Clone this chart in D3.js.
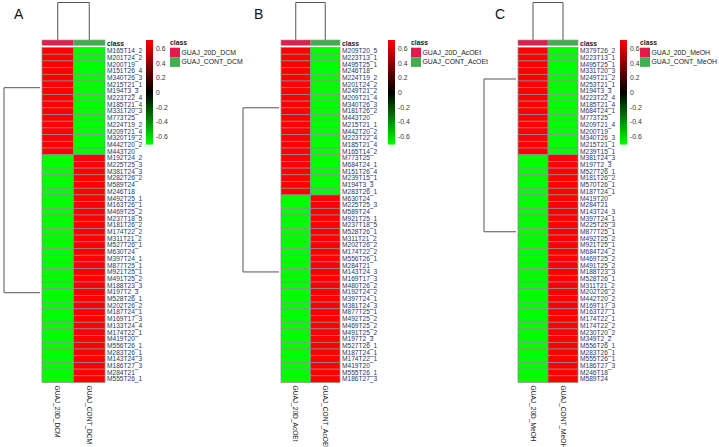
<!DOCTYPE html>
<html><head><meta charset="utf-8">
<script src="https://cdn.jsdelivr.net/npm/d3@7"></script>
<style>body{margin:0;background:#fff}svg{display:block;font-family:"Liberation Sans",Arial,sans-serif}</style>
</head><body><svg id="c" width="719" height="447"></svg>
<script>
// ---------- DATA ----------
const colsA = ["GUAJ_20D_DCM", "GUAJ_CONT_DCM"];
const colsB = ["GUAJ_20D_AcOEt", "GUAJ_CONT_AcOEt"];
const colsC = ["GUAJ_20D_MeOH", "GUAJ_CONT_MeOH"];
const colClass = ["20D", "CONT"];

const rowsA = ["M165T14_2","M201T24_2","M200T19","M151T26_4","M340T26_3","M215T21_1","M194T3_3","M223T22_4","M185T21_4","M331T20_3","M773T25","M224T19_2","M209T21_4","M320T19_2","M442T20_2","M443T20",
"M192T24_2","M225T25_3","M381T24_3","M282T26_2","M589T24","M246T18","M492T25_1","M163T26_1","M469T25_2","M237T18_5","M181T26_2","M174T22_2","M311T21_2","M527T26_1","M630T24","M397T24_1","M877T25_1","M921T25_1","M491T25_2","M188T23_3","M197T2_3","M528T26_1","M202T26_2","M187T24_1","M169T17_3","M133T24_4","M174T22_1","M419T20","M556T26_1","M283T26_1","M143T24_3","M186T27_3","M284T21","M555T26_1"];
const a20D = [0.71,0.71,0.71,0.71,0.71,0.71,0.71,0.71,0.71,0.71,0.71,0.71,0.71,0.71,0.71,0.71,
-0.71,-0.71,-0.71,-0.71,-0.71,-0.71,-0.71,-0.71,-0.71,-0.71,-0.71,-0.71,-0.71,-0.71,-0.71,-0.71,-0.71,-0.71,-0.71,-0.71,-0.71,-0.71,-0.71,-0.71,-0.71,-0.71,-0.71,-0.71,-0.71,-0.71,-0.71,-0.71,-0.71,-0.71];
const aCONT = [-0.71,-0.71,-0.71,-0.71,-0.71,-0.71,-0.71,-0.71,-0.71,-0.71,-0.71,-0.71,-0.71,-0.71,-0.71,-0.71,
0.71,0.71,0.71,0.71,0.71,0.71,0.71,0.71,0.71,0.71,0.71,0.71,0.71,0.71,0.71,0.71,0.71,0.71,0.71,0.71,0.71,0.71,0.71,0.71,0.71,0.71,0.71,0.71,0.71,0.71,0.71,0.71,0.71,0.71];

const rowsB = ["M209T20_5","M223T13_1","M495T25_1","M246T18","M224T19_2","M201T24_2","M249T21_2","M209T21_4","M340T26_3","M181T26_2","M443T20","M215T21_1","M442T20_2","M223T22_4","M185T21_4","M165T14_2","M773T25","M684T24_1","M151T26_4","M239T15_1","M194T3_3","M283T26_1",
"M630T24","M225T25_3","M589T24","M921T25_1","M237T18_5","M528T26_1","M311T21_2","M202T26_2","M174T22_2","M556T26_1","M284T21","M143T24_3","M169T17_3","M480T26_2","M192T24_2","M397T24_1","M381T24_3","M877T25_1","M492T25_2","M469T25_2","M491T25_2","M197T2_3","M527T26_1","M187T24_1","M174T22_1","M419T20","M555T26_1","M186T27_3"];
const b20D = [0.71,0.71,0.71,0.71,0.71,0.71,0.71,0.71,0.71,0.71,0.71,0.71,0.71,0.71,0.71,0.71,0.71,0.71,0.71,0.71,0.71,0.71,
-0.71,-0.71,-0.71,-0.71,-0.71,-0.71,-0.71,-0.71,-0.71,-0.71,-0.71,-0.71,-0.71,-0.71,-0.71,-0.71,-0.71,-0.71,-0.71,-0.71,-0.71,-0.71,-0.71,-0.71,-0.71,-0.71,-0.71,-0.71];
const bCONT = [-0.71,-0.71,-0.71,-0.71,-0.71,-0.71,-0.71,-0.71,-0.71,-0.71,-0.71,-0.71,-0.71,-0.71,-0.71,-0.71,-0.71,-0.71,-0.71,-0.71,-0.71,-0.71,
0.71,0.71,0.71,0.71,0.71,0.71,0.71,0.71,0.71,0.71,0.71,0.71,0.71,0.71,0.71,0.71,0.71,0.71,0.71,0.71,0.71,0.71,0.71,0.71,0.71,0.71,0.71,0.71];

const rowsC = ["M379T26_2","M223T13_1","M495T25_1","M331T20_3","M249T21_2","M253T21_1","M194T3_3","M223T22_4","M185T21_4","M684T24_1","M773T25","M209T21_4","M200T19","M340T26_3","M215T21_1","M239T15_1",
"M381T24_3","M197T2_3","M527T26_1","M181T26_2","M570T26_1","M187T24_1","M419T20","M284T21","M143T24_3","M397T24_1","M225T25_3","M877T25_1","M492T25_2","M921T25_1","M684T24_2","M469T25_2","M491T25_2","M188T23_3","M528T26_1","M311T21_2","M202T26_2","M442T20_2","M169T17_3","M163T27_1","M174T22_1","M174T22_2","M230T20_2","M349T2_2","M556T26_1","M283T26_1","M555T26_1","M186T27_3","M246T18","M589T24"];
const c20D = [0.71,0.71,0.71,0.71,0.71,0.71,0.71,0.71,0.71,0.71,0.71,0.71,0.71,0.71,0.71,0.71,
-0.71,-0.71,-0.71,-0.71,-0.71,-0.71,-0.71,-0.71,-0.71,-0.71,-0.71,-0.71,-0.71,-0.71,-0.71,-0.71,-0.71,-0.71,-0.71,-0.71,-0.71,-0.71,-0.71,-0.71,-0.71,-0.71,-0.71,-0.71,-0.71,-0.71,-0.71,-0.71,-0.71,-0.71];
const cCONT = [-0.71,-0.71,-0.71,-0.71,-0.71,-0.71,-0.71,-0.71,-0.71,-0.71,-0.71,-0.71,-0.71,-0.71,-0.71,-0.71,
0.71,0.71,0.71,0.71,0.71,0.71,0.71,0.71,0.71,0.71,0.71,0.71,0.71,0.71,0.71,0.71,0.71,0.71,0.71,0.71,0.71,0.71,0.71,0.71,0.71,0.71,0.71,0.71,0.71,0.71,0.71,0.71,0.71,0.71];

// row dendrogram: position (in row units) of the two main cluster links
const rowLinkA = [6.0, 36.6];
const rowLinkB = [9.0, 33.5];
const rowLinkC = [4.7, 27.5];
const colorTicks = [0.6, 0.4, 0.2, 0, -0.2, -0.4, -0.6];
const colorTickLabels = ["0.6", "0.4", "0.2", "0", "-0.2", "-0.4", "-0.6"];
const legendTitle = "class";

// ---------- DRAW ----------
const svg = d3.select("#c");
const RED = "#ff0000", GREEN = "#00ff00", BLACK = "#000000";
const classColor = d3.scaleOrdinal().domain(colClass).range(["#e31a4c", "#43ad4f"]);
const heat = d3.scaleLinear().domain([-0.71, 0, 0.71]).range([GREEN, BLACK, RED]);

const defs = svg.append("defs");
const grad = defs.append("linearGradient").attr("id", "cbar").attr("x1", 0).attr("y1", 1).attr("x2", 0).attr("y2", 0);
grad.selectAll("stop").data([0, 0.5, 1]).join("stop")
  .attr("offset", d => d).attr("stop-color", d => heat(-0.71 + d * 1.42));

function panel(cfg) {
  const g = svg.append("g");
  const top = 47.5, bottom = 382.5;
  const y = d3.scaleBand().domain(cfg.rows).range([top, bottom]);
  const yPos = d3.scaleLinear().domain([0, cfg.rows.length]).range([top, bottom]);
  const x = d3.scaleBand().domain(cfg.cols).range([cfg.x0, cfg.x1]);

  g.append("text").attr("x", cfg.letterX).attr("y", 19).attr("font-size", 14).attr("fill", "#111").text(cfg.letter);

  // column dendrogram
  const cd = d3.scaleLinear().domain([0, 1]).range([40, 2.5]);
  const cx = cfg.cols.map(c => x(c) + x.bandwidth() / 2);
  g.append("path").attr("fill", "none").attr("stroke", "#555").attr("stroke-width", 1)
    .attr("d", `M${cx[0]},${cd(0)}V${cd(1)}H${cx[1]}V${cd(0)}`);

  // class bar
  g.selectAll(".cls").data(cfg.cols).join("rect")
    .attr("x", d => x(d)).attr("y", 40).attr("width", x.bandwidth()).attr("height", 5.3)
    .attr("fill", (d, i) => classColor(colClass[i])).attr("stroke", "#999").attr("stroke-width", 0.6);
  g.append("text").attr("x", cfg.x1 + 2).attr("y", 45.5).attr("font-size", 6.8).attr("font-weight", "bold").attr("fill", "#222").text(legendTitle);

  // cells
  const cells = [];
  cfg.rows.forEach((r, i) => {
    cells.push({ r, c: cfg.cols[0], v: cfg.v1[i] });
    cells.push({ r, c: cfg.cols[1], v: cfg.v2[i] });
  });
  g.selectAll(".cell").data(cells).join("rect")
    .attr("x", d => x(d.c)).attr("y", d => y(d.r)).attr("width", x.bandwidth()).attr("height", y.bandwidth())
    .attr("fill", d => heat(d.v)).attr("stroke", "#8f8f8f").attr("stroke-width", 0.7);

  // row labels
  g.selectAll(".rl").data(cfg.rows).join("text")
    .attr("x", cfg.x1 + 2).attr("y", d => y(d) + y.bandwidth() / 2).attr("dy", "0.35em")
    .attr("font-size", 6.6).attr("fill", "#27346a").text(d => d);

  // column labels
  g.selectAll(".cl").data(cfg.cols).join("text")
    .attr("transform", d => `translate(${x(d) + x.bandwidth() / 2 - 2.3},${bottom + 3}) rotate(90)`)
    .attr("font-size", 6.6).attr("fill", "#222").text(d => d);

  // row dendrogram
  const rd = d3.scaleLinear().domain([0, 1]).range([cfg.x0 - 2, cfg.dendX]);
  const ly = cfg.link.map(v => yPos(v));
  g.append("path").attr("fill", "none").attr("stroke", "#555").attr("stroke-width", 1)
    .attr("d", `M${rd(0)},${ly[0]}H${rd(1)}V${ly[1]}H${rd(0)}`);

  // colour bar
  const cb = d3.scaleLinear().domain([-0.71, 0.71]).range([144.6, 40]);
  g.append("rect").attr("x", cfg.cbX).attr("y", cb(0.71)).attr("width", 7).attr("height", cb(-0.71) - cb(0.71)).attr("fill", "url(#cbar)");
  const ax = g.append("g").attr("transform", `translate(${cfg.cbX + 7},0)`)
    .call(d3.axisRight(cb).tickValues(colorTicks).tickSize(0).tickPadding(3).tickFormat((d, i) => colorTickLabels[i]));
  ax.select(".domain").remove();
  ax.selectAll("text").attr("font-size", 6.8).attr("fill", "#333").attr("font-family", "Liberation Sans, Arial, sans-serif");

  // class legend
  g.append("text").attr("x", cfg.legX).attr("y", 45).attr("font-size", 6.8).attr("font-weight", "bold").attr("fill", "#222").text(legendTitle);
  const leg = g.selectAll(".lg").data(cfg.cols).join("g").attr("transform", (d, i) => `translate(${cfg.legX},${47.7 + i * 9.6})`);
  leg.append("rect").attr("width", 10).attr("height", 9.6).attr("fill", (d, i) => classColor(colClass[i]));
  leg.append("text").attr("x", 11.5).attr("y", 7).attr("font-size", 6.9).attr("fill", "#222").text(d => d);
}

panel({ letter: "A", letterX: 14, rows: rowsA, cols: colsA, v1: a20D, v2: aCONT, link: rowLinkA, x0: 42, x1: 105, dendX: 4, cbX: 146, legX: 170 });
panel({ letter: "B", letterX: 254, rows: rowsB, cols: colsB, v1: b20D, v2: bCONT, link: rowLinkB, x0: 281, x1: 340, dendX: 243, cbX: 388, legX: 411 });
panel({ letter: "C", letterX: 495, rows: rowsC, cols: colsC, v1: c20D, v2: cCONT, link: rowLinkC, x0: 518, x1: 578, dendX: 484, cbX: 620, legX: 640 });
</script></body></html>
